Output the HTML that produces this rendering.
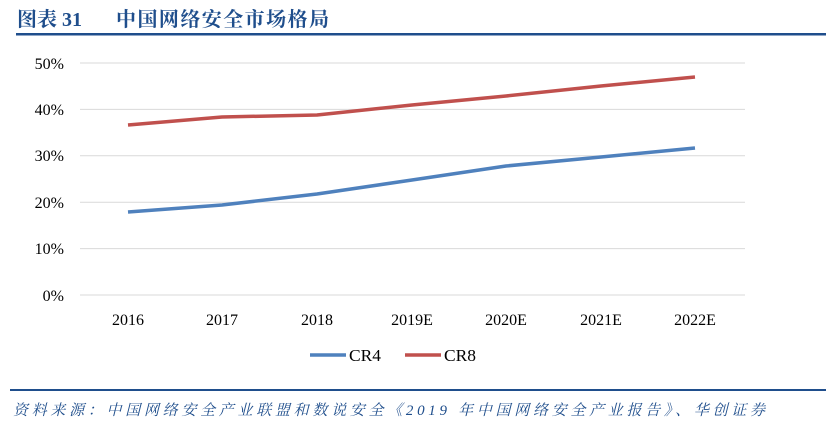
<!DOCTYPE html>
<html><head><meta charset="utf-8"><style>
body{margin:0;background:#fff;}
svg{display:block;}
</style></head><body>
<svg width="826" height="436" xmlns="http://www.w3.org/2000/svg">
<text x="17" y="26" font-family="'Liberation Serif','Noto Serif CJK SC',serif" font-weight="bold" font-size="20" fill="#1f4e8c">图表 31</text>
<text x="116" y="26" font-family="'Liberation Serif','Noto Serif CJK SC',serif" font-weight="bold" font-size="20" fill="#1f4e8c" textLength="213" lengthAdjust="spacing">中国网络安全市场格局</text>
<rect x="16" y="33" width="810" height="2.5" fill="#1f4e8c"/>
<g stroke="#d9d9d9" stroke-width="1">
<line x1="80" y1="63" x2="745" y2="63"/>
<line x1="80" y1="109.4" x2="745" y2="109.4"/>
<line x1="80" y1="155.8" x2="745" y2="155.8"/>
<line x1="80" y1="202.2" x2="745" y2="202.2"/>
<line x1="80" y1="248.6" x2="745" y2="248.6"/>
<line x1="80" y1="295" x2="745" y2="295"/>
</g>
<g font-family="'Liberation Serif',serif" font-size="16" fill="#000" text-anchor="end">
<text x="64" y="69">50%</text><text x="64" y="115">40%</text><text x="64" y="161">30%</text>
<text x="64" y="208">20%</text><text x="64" y="254">10%</text><text x="64" y="301">0%</text>
</g>
<g font-family="'Liberation Serif',serif" font-size="16" fill="#000" text-anchor="middle">
<text x="128" y="325">2016</text><text x="222" y="325">2017</text><text x="317" y="325">2018</text>
<text x="412" y="325">2019E</text><text x="506" y="325">2020E</text><text x="601" y="325">2021E</text><text x="695" y="325">2022E</text>
</g>
<polyline fill="none" stroke="#4f81bd" stroke-width="3.5" stroke-linejoin="round" points="128,212 222,205 317,194 412,180 506,166 601,157 695,148"/>
<polyline fill="none" stroke="#c0504d" stroke-width="3.5" stroke-linejoin="round" points="128,125 222,117 317,115 412,105 506,96 601,86 695,77"/>
<line x1="310" y1="355" x2="346" y2="355" stroke="#4f81bd" stroke-width="3.5"/>
<text x="349" y="361" font-family="'Liberation Serif',serif" font-size="17" textLength="32" lengthAdjust="spacingAndGlyphs">CR4</text>
<line x1="405" y1="355" x2="441" y2="355" stroke="#c0504d" stroke-width="3.5"/>
<text x="444" y="361" font-family="'Liberation Serif',serif" font-size="17" textLength="32" lengthAdjust="spacingAndGlyphs">CR8</text>
<rect x="10" y="389" width="816" height="2" fill="#1f4e8c"/>
<text x="13" y="415" font-family="'Liberation Serif','Noto Serif CJK SC',serif" font-style="italic" font-size="15" fill="#1f4e8c" textLength="752" lengthAdjust="spacing">资料来源：中国网络安全产业联盟和数说安全《2019 年中国网络安全产业报告》、华创证券</text>
</svg>
</body></html>
